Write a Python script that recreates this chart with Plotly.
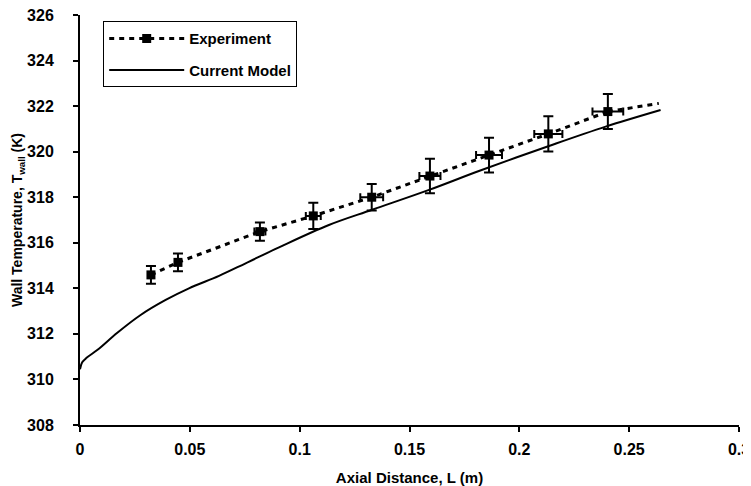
import plotly.graph_objects as go

# Experiment data
exp_L = [0.0323, 0.0446, 0.0819, 0.1062, 0.1328, 0.1593, 0.1862, 0.2132, 0.2403]
exp_T = [314.59, 315.14, 316.49, 317.18, 318.0, 318.93, 319.85, 320.78, 321.76]
exp_T_err = [0.39, 0.39, 0.4, 0.58, 0.58, 0.76, 0.76, 0.77, 0.77]
exp_L_err = [0.001, 0.0013, 0.0025, 0.0034, 0.0052, 0.0048, 0.0059, 0.0064, 0.0070]
# trailing segment of the experiment dashed line
exp_tail_L = [0.2403, 0.2635]
exp_tail_T = [321.76, 322.12]

# Current model curve
model_L = [0, 0.001, 0.003, 0.008, 0.017, 0.0276, 0.039, 0.0496, 0.0633, 0.0754,
           0.0906, 0.1133, 0.133, 0.1589, 0.1816, 0.2135, 0.2393, 0.2643]
model_T = [310.45, 310.75, 310.95, 311.3, 312.05, 312.83, 313.49, 314.0, 314.55, 315.1,
           315.8, 316.78, 317.45, 318.32, 319.15, 320.25, 321.1, 321.83]

x_ticks = [0, 0.05, 0.1, 0.15, 0.2, 0.25, 0.3]
x_tick_labels = ["0", "0.05", "0.1", "0.15", "0.2", "0.25", "0.3"]
y_ticks = [308, 310, 312, 314, 316, 318, 320, 322, 324, 326]

FONT = "Liberation Sans, Arial, sans-serif"

fig = go.Figure()

fig.add_trace(go.Scatter(
    x=exp_L, y=exp_T, mode="lines+markers", name="Experiment",
    legendgroup="exp",
    line=dict(color="black", width=3, dash="5px,5px"),
    marker=dict(symbol="square", size=9, color="black"),
    error_y=dict(type="data", array=exp_T_err, color="black", thickness=2, width=5),
    error_x=dict(type="data", array=exp_L_err, color="black", thickness=2, width=4),
))
fig.add_trace(go.Scatter(
    x=exp_tail_L, y=exp_tail_T, mode="lines", showlegend=False,
    legendgroup="exp",
    line=dict(color="black", width=3, dash="5px,5px"),
))
fig.add_trace(go.Scatter(
    x=model_L, y=model_T, mode="lines", name="Current Model",
    legendgroup="model",
    line=dict(color="black", width=2, shape="spline"),
))

# The page body has an 8px default margin; margins compensate for that offset.
fig.update_layout(
    width=751, height=478,
    margin=dict(l=72, r=20, t=7, b=61),
    paper_bgcolor="white", plot_bgcolor="white",
    font=dict(family=FONT, color="black"),
    showlegend=True,
    legend=dict(
        x=0.0352, y=0.985, xanchor="left", yanchor="top",
        bordercolor="black", borderwidth=1, bgcolor="white",
        font=dict(size=15, family=FONT, weight="bold"),
        itemwidth=75, traceorder="grouped", tracegroupgap=9,
    ),
    xaxis=dict(
        range=[0, 0.3], tickvals=x_ticks, ticktext=x_tick_labels,
        showgrid=False, zeroline=False, automargin=False,
        showline=True, linecolor="black", linewidth=2,
        ticks="outside", ticklen=5, tickcolor="black", tickwidth=2,
        tickfont=dict(size=16, weight="bold"),
        ticklabelstandoff=4, ticklabeloverflow="allow",
        title=dict(text="Axial Distance, L (m)", font=dict(size=15, weight="bold"), standoff=20),
    ),
    yaxis=dict(
        range=[308, 326], tickvals=y_ticks,
        showgrid=False, zeroline=False, automargin=False,
        showline=True, linecolor="black", linewidth=2,
        ticks="outside", ticklen=5, tickcolor="black", tickwidth=2,
        tickfont=dict(size=16, weight="bold"),
        ticklabelstandoff=16, ticklabeloverflow="allow",
        title=dict(text="Wall Temperature, T<sub>wall</sub> (K)", font=dict(size=14, weight="bold"), standoff=0),
    ),
)

fig.write_html("out.html")
